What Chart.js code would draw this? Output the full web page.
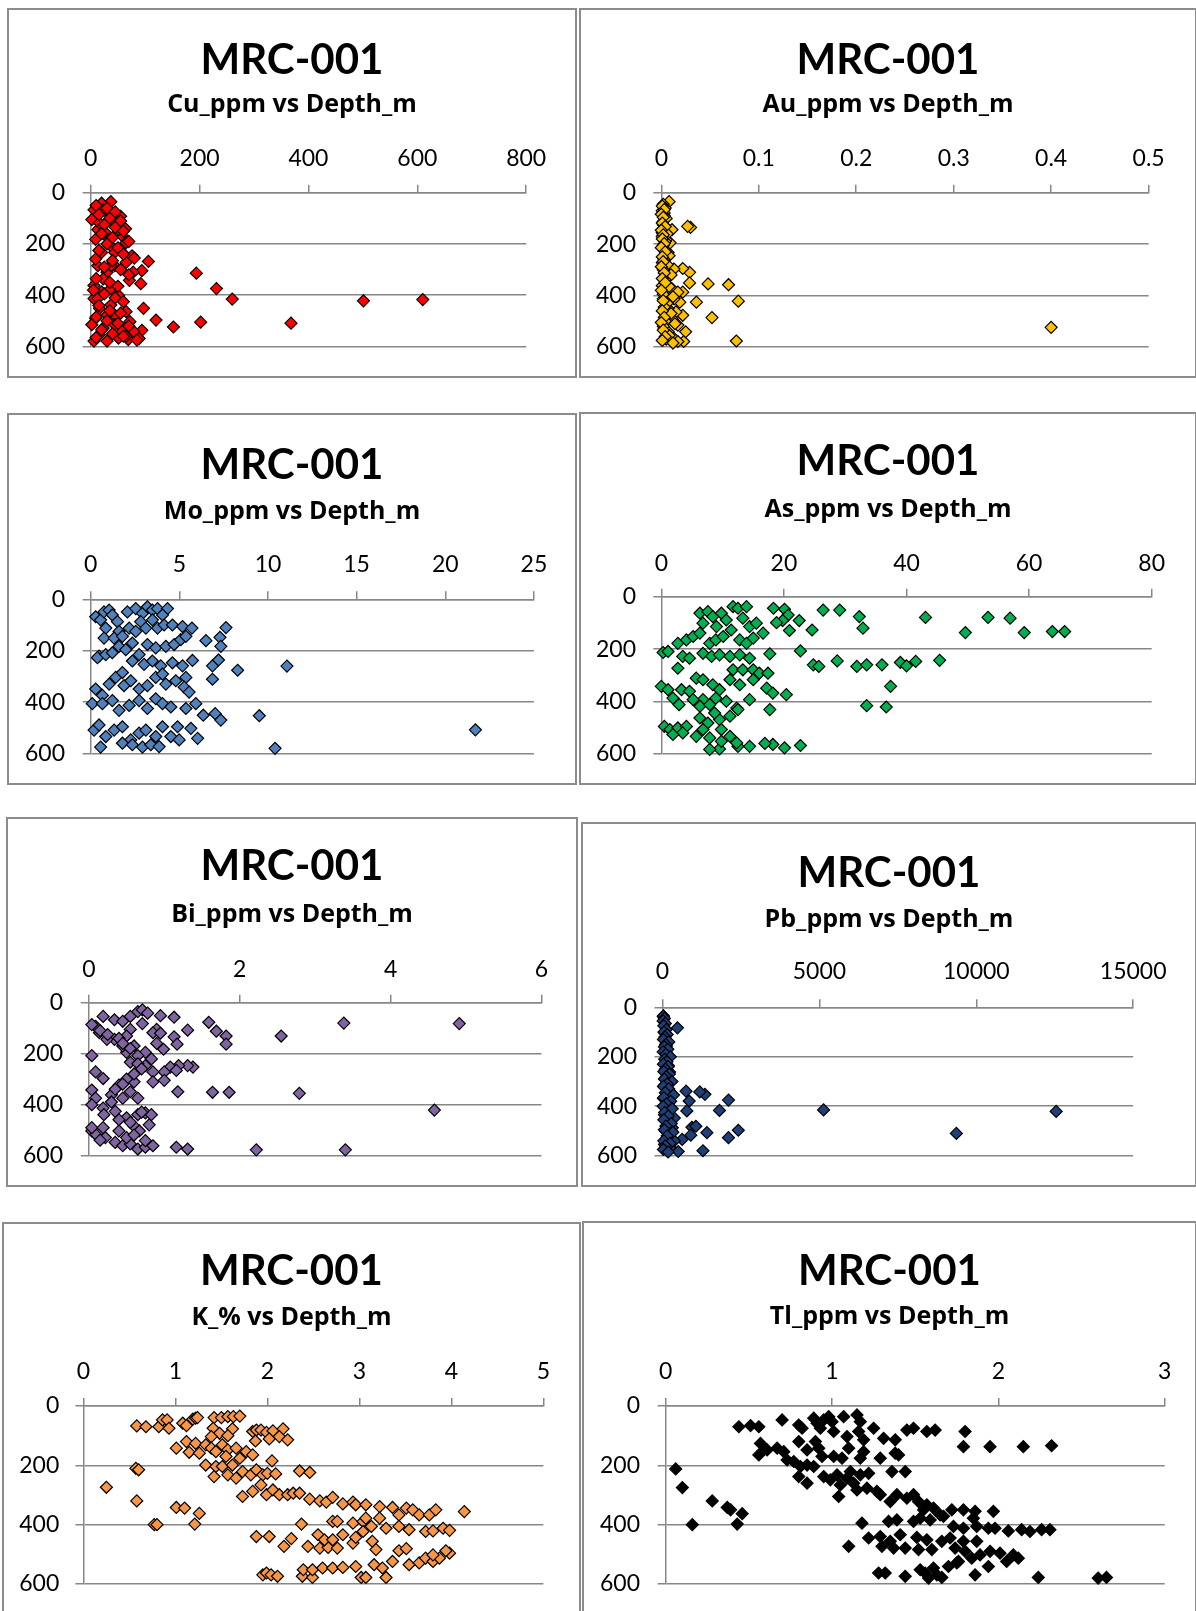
<!DOCTYPE html>
<html><head><meta charset="utf-8">
<script src="https://cdn.jsdelivr.net/npm/chart.js@4.4.0/dist/chart.umd.min.js"></script>
<style>
html,body{margin:0;padding:0;background:#fff;}
body{width:1196px;height:1611px;position:relative;overflow:hidden;}
.frame{position:absolute;box-sizing:border-box;border:2px solid #8c8c8c;background:#fff;}
canvas{position:absolute;}
</style></head><body>
<script>
const holeId = 'MRC-001';
const depthTicks = [0, 200, 400, 600];

// [value, depth_m]
const cuData = [
[610,417],[501,422],[368,509],[202,505],[152,524],[120,497],[97,451],[94,537],[89,569],[260,415],[231,374],[194,314],[106,268],[94,304],[92,355],[71,342],[78,310],[65,272],[64,141],[55,92],[37,35],[20,41],[6,67],[2,105],[13,144],[9,182],[20,233],[27,156],[44,118],[58,169],[37,208],[58,233],[76,246],[13,285],[30,310],[44,285],[6,362],[20,387],[37,374],[51,400],[6,413],[16,451],[37,438],[44,477],[65,464],[9,490],[23,528],[6,579],[30,579],[51,567],[69,573],[16,554],[44,515],[72,503],[58,541],[2,515],[30,477],[13,413],[23,336],[37,285],[9,259],[44,233],[65,195],[34,182],[16,118],[37,92],[23,67],[51,144],[79,541],[65,560],
[10,50],[30,60],[45,75],[15,85],[35,100],[55,110],[25,125],[45,135],[60,150],[20,160],[40,175],[70,190],[30,200],[50,215],[15,225],[60,240],[80,255],[40,265],[25,290],[55,300],[70,320],[10,335],[35,350],[50,365],[5,380],[25,395],[45,410],[60,425],[15,440],[35,460],[55,470],[10,485],[30,500],[50,510],[70,520],[20,535],[40,550],[60,560],[10,565],[85,575]
];
const auData = [
[0.400,524],[0.077,577],[0.079,422],[0.069,358],[0.048,355],[0.052,486],[0.036,426],[0.030,135],[0.027,131],[0.029,310],[0.029,351],[0.022,295],[0.022,387],[0.022,477],[0.023,579],[0.025,541],[0.019,426],[0.013,297],[0.011,144],[0.008,35],[0.003,79],[0.001,156],[0.003,221],[0.007,233],[0.009,195],[0.001,272],[0.005,323],[0.001,362],[0.011,374],[0.013,413],[0.005,464],[0.015,464],[0.003,528],[0.013,567],[0.007,541],[0.017,515],[0.002,112],[0.005,182],[0.017,387],[0.011,490],[0.002,413],[0.007,451],[0.017,579],
[0.002,45],[0.004,60],[0.001,70],[0.003,90],[0.005,100],[0.002,125],[0.006,160],[0.001,170],[0.004,190],[0.002,205],[0.008,245],[0.003,260],[0.006,280],[0.002,300],[0.010,320],[0.004,340],[0.008,365],[0.002,395],[0.012,405],[0.006,430],[0.003,445],[0.010,470],[0.004,500],[0.014,510],[0.002,520],[0.008,555],[0.005,570],[0.012,585],
[0.001,52],[0.003,66],[0.000,84],[0.002,96],[0.001,118],[0.004,132],[0.000,146],[0.002,164],[0.001,180],[0.003,198],[0.000,214],[0.004,230],[0.001,250],[0.002,268],[0.000,288],[0.003,312],[0.001,334],[0.004,350],[0.000,380],[0.002,420],[0.001,460],[0.003,485],[0.000,505],[0.002,535],[0.004,560],[0.001,575]
];
const moData = [
[0.28,68],[0.56,80],[0.75,49],[1.04,42],[1.22,61],[1.51,87],[2.07,49],[2.54,36],[2.92,55],[3.20,29],[3.48,42],[3.77,36],[4.33,36],[4.05,61],[3.48,80],[2.82,87],[2.17,112],[1.60,125],[0.85,112],[0.75,151],[1.32,151],[1.79,144],[2.54,125],[3.11,112],[3.77,112],[4.14,100],[4.61,100],[5.18,106],[5.71,112],[7.63,110],[6.50,161],[7.29,148],[7.34,183],
[0.47,221],[0.38,227],[0.85,215],[1.22,208],[1.60,183],[1.98,196],[2.35,170],[2.73,215],[3.20,176],[3.67,189],[4.24,183],[4.71,176],[5.08,157],[5.37,144],[2.35,240],[3.01,253],[3.48,240],[3.95,259],[4.61,247],[5.18,259],[5.74,238],[6.87,259],[7.21,236],[8.29,276],[11.07,260],[6.87,311],
[0.28,349],[0.66,374],[1.04,330],[1.41,304],[1.79,285],[1.88,336],[2.26,317],[2.73,349],[3.20,336],[3.67,304],[4.05,291],[4.24,330],[4.80,317],[5.37,304],[5.27,342],[5.55,361],
[0.09,406],[0.66,406],[1.22,394],[1.60,432],[2.17,413],[2.73,394],[3.20,425],[3.67,387],[4.05,406],[4.52,419],[5.37,425],[5.93,406],[6.35,451],[7.02,445],[7.34,470],[9.51,453],
[0.19,509],[0.47,489],[0.85,534],[1.32,509],[1.79,496],[2.26,547],[2.73,521],[3.11,509],[3.67,534],[4.05,496],[4.52,534],[4.90,496],[4.99,547],[5.65,502],[6.03,541],[0.56,575],[1.79,560],[2.35,566],[2.92,575],[3.39,566],[3.86,573],[10.4,580],[21.7,508]
];
const asData = [
[26.4,51],[29.1,51],[32.3,76],[32.9,120],[43.1,79],[49.6,137],[53.3,79],[56.9,82],[59.2,137],[63.8,133],[65.8,133],[24.6,127],[22.7,207],[24.8,260],[25.7,266],[28.7,245],[31.9,266],[33.5,260],[36.0,260],[39.0,251],[40.0,264],[41.5,247],[45.4,243],[37.4,342],[33.5,416],[36.7,421],
[18.3,44],[20.1,48],[20.7,70],[22.5,91],[20.9,129],[19.8,91],[18.8,99],[17.7,218],[20.4,374],[17.7,431],[17.2,349],[18.2,368],[14.4,393],[14.4,571],[18.2,564],[16.9,560],[20.1,577],[22.7,568],[12.5,571],[9.5,581],[7.9,583],
[0.3,213],[1.1,209],[2.7,273],[3.5,228],[4.6,235],[2.7,178],[4.1,165],[5.2,152],[6.3,63],[6.8,101],[7.6,57],[8.4,76],[9.0,114],[9.8,63],[10.6,89],[11.7,38],[12.5,44],[13.9,38],[13.3,82],[14.4,114],[15.5,101],[16.6,139],[6.3,139],[7.9,178],[8.9,165],[10.1,152],[11.4,127],[12.8,165],[13.9,178],[15.0,158],
[6.8,216],[8.2,228],[9.5,222],[11.2,228],[12.8,222],[14.4,235],[11.7,279],[13.3,279],[15.0,279],[16.0,292],[17.4,292],[11.2,317],[12.8,336],[15.0,317],
[0.0,342],[1.1,355],[3.3,355],[4.6,361],[5.7,311],[6.8,317],[8.4,336],[9.5,355],[6.8,393],[2.9,412],[1.9,387],[5.2,393],[6.3,418],[7.9,412],[8.9,387],[10.6,399],[12.3,425],[6.3,463],[7.6,482],[9.5,469],[11.2,456],[12.5,431],[8.7,444],
[0.5,495],[1.4,507],[2.7,501],[4.1,495],[3.5,520],[5.7,533],[6.8,507],[7.9,539],[9.8,507],[11.2,533],[12.3,558],[9.8,552],[1.9,526]
];
const biData = [
[4.91,82],[3.38,80],[2.55,131],[1.82,131],[1.82,163],[1.69,112],[1.59,77],[1.31,108],[1.13,57],[0.95,51],[1.13,134],[1.17,163],[0.99,183],[0.90,105],[0.85,118],[4.58,422],[2.79,356],[1.86,352],[1.64,352],[1.18,350],[2.22,578],[3.40,578],[1.31,575],[1.16,568],
[1.38,253],[1.31,247],[1.19,247],[1.08,253],[1.16,266],[1.00,272],[1.00,305],[0.85,272],[0.85,311],[0.75,247],[0.83,221],[0.75,195],[0.65,208],[0.55,234],[0.50,195],[0.60,170],[0.45,170],[0.34,144],[0.24,144],[0.14,118],[0.09,93],[0.04,86],[0.19,54],[0.34,67],[0.45,73],[0.55,105],[0.55,54],[0.65,35],[0.71,28],[0.78,41],[0.71,82],[0.50,131],
[0.04,208],[0.09,272],[0.19,298],[0.04,343],[0.09,375],[0.04,401],[0.19,414],[0.30,362],[0.40,324],[0.45,375],[0.55,350],[0.60,311],[0.65,375],[0.35,427],[0.50,452],[0.65,440],[0.75,433],[0.83,440],[0.60,485],[0.40,504],[0.22,530],[0.04,504],[0.09,517],[0.04,491],[0.19,491],[0.35,549],[0.45,562],[0.55,555],[0.65,575],[0.75,568],[0.85,562],[0.75,542],[0.67,504],[0.50,530],
[0.15,110],[0.25,125],[0.40,140],[0.45,160],[0.55,180],[0.65,240],[0.70,260],[0.60,280],[0.50,300],[0.45,320],[0.35,340],[0.30,390],[0.20,440],[0.40,460],[0.55,470],[0.70,430],[0.80,480],[0.15,540],[0.60,520],[0.95,120],[0.90,160]
];
const pbData = [
[12545,421],[9365,510],[5133,415],[2416,497],[2103,375],[2103,527],[1815,417],[1415,507],[1290,580],[1352,352],[1189,342],[939,485],[1064,481],[901,517],[751,339],[851,379],[776,419],[626,534],[501,583],[476,83],[313,487],[376,448],[250,342],[188,289],[188,236],[125,183],[63,130],[25,37],[63,103],[125,156],[150,209],[225,262],[63,315],[25,368],[125,395],[63,434],[188,461],[100,501],[63,554],[125,573],[250,567],[376,540],
[30,35],[60,45],[20,55],[90,65],[40,75],[120,90],[50,100],[150,110],[80,120],[30,130],[200,140],[100,150],[60,160],[170,170],[20,180],[110,190],[250,200],[70,210],[140,220],[30,230],[180,240],[90,250],[40,260],[220,270],[120,280],[60,290],[300,300],[150,310],[30,320],[200,330],[90,345],[350,355],[40,365],[260,380],[130,390],[20,400],[310,410],[70,425],[180,440],[40,455],[280,470],[110,480],[60,495],[330,505],[150,520],[40,540],[240,550],[90,560],[30,575],[180,585]
];
const kData = [
[0.58,67],[0.68,70],[0.82,70],[0.86,47],[0.91,47],[0.93,75],[1.08,58],[1.12,66],[1.19,44],[1.22,41],[1.24,39],[1.42,39],[1.50,39],[1.57,36],[1.63,36],[1.70,34],[1.41,75],[1.62,77],[1.48,92],[1.57,100],[1.39,103],[1.84,86],[1.88,81],[1.93,81],[1.99,89],[2.06,84],[2.17,77],[1.87,118],[2.02,111],[2.13,103],[2.22,114],
[1.01,142],[1.12,120],[1.15,156],[1.22,126],[1.26,159],[1.33,131],[1.39,142],[1.44,154],[1.51,131],[1.57,148],[1.66,142],[1.70,176],[1.77,154],[1.84,165],[1.55,170],[1.33,199],[1.44,204],[1.51,204],[1.62,199],[1.42,238],[1.57,232],[1.66,243],[1.73,221],[1.82,232],[1.88,215],[1.95,232],[2.00,227],[2.09,229],[2.05,185],[0.57,210],[0.60,215],[2.35,219],[2.46,224],
[0.25,274],[0.58,320],[1.01,342],[1.10,344],[1.26,362],[0.77,400],[0.80,400],[1.21,398],
[1.73,305],[1.84,288],[1.93,266],[1.99,299],[2.06,283],[2.13,299],[2.22,299],[2.28,294],[2.35,294],[2.46,314],[2.57,320],[2.64,324],[2.71,308],[2.82,330],[2.93,324],[2.96,333],[3.07,333],[3.22,339],[3.36,342],[3.43,367],[3.51,344],[3.58,350],[3.65,367],[3.76,367],[3.83,350],[4.14,356],
[2.37,398],[2.71,389],[2.76,389],[2.93,395],[3.04,389],[3.07,378],[3.13,406],[3.22,378],[3.29,412],[3.43,406],[3.54,417],[3.72,423],[3.80,421],[3.91,412],[3.98,419],
[1.88,440],[2.02,440],[2.18,473],[2.26,447],[2.44,473],[2.55,434],[2.57,479],[2.66,477],[2.76,479],[2.62,451],[2.71,451],[2.82,434],[2.93,462],[2.96,443],[3.04,423],[3.14,456],[3.18,484],[3.43,488],[3.51,481],
[1.95,569],[1.99,563],[2.04,569],[2.11,574],[2.38,574],[2.49,578],[2.39,552],[2.49,552],[2.60,546],[2.71,546],[2.82,544],[2.96,541],[3.02,578],[3.07,578],[3.16,535],[3.25,546],[3.29,578],[3.36,524],[3.54,535],[3.65,529],[3.72,513],[3.80,524],[3.87,513],[3.98,496],[3.94,488],[3.80,502]
];
const tlData = [
[0.44,70],[0.51,66],[0.56,70],[0.70,47],[0.80,64],[0.82,75],[0.89,41],[0.91,58],[0.93,75],[0.95,47],[0.98,36],[1.00,53],[1.01,86],[1.07,36],[1.09,103],[1.15,30],[1.17,53],[1.16,86],[1.19,114],[1.25,75],[1.31,109],[1.38,114],[1.45,81],[1.49,75],[1.57,86],[1.62,81],[1.80,86],
[0.80,120],[0.85,148],[0.90,120],[0.92,142],[0.57,126],[0.61,148],[0.56,165],[0.67,142],[0.71,154],[0.73,182],[0.77,187],[0.81,204],[0.85,199],[0.89,204],[0.80,238],[0.85,260],[0.94,170],[1.01,170],[1.06,176],[1.10,142],[1.17,176],[1.19,154],[1.29,176],[1.38,159],[1.40,165],
[0.95,238],[0.99,249],[1.03,232],[1.05,266],[1.04,305],[1.09,243],[1.11,221],[1.13,260],[1.15,283],[1.17,232],[1.22,227],[1.21,277],[1.27,288],[1.29,299],[1.36,221],[1.44,221],[1.35,322],[1.39,299],[1.45,311],[1.49,299],[1.52,322],[1.57,333],[1.61,344],[1.55,350],[1.65,367],[1.72,350],[1.79,350],[1.86,355],[1.97,355],[1.85,378],
[1.18,395],[1.34,389],[1.39,384],[1.49,389],[1.53,378],[1.59,384],[1.67,372],[1.73,406],[1.79,412],[1.87,406],[1.94,412],[1.98,412],[2.06,421],[2.14,417],[2.19,423],[2.26,417],[2.31,417],
[1.22,445],[1.29,440],[1.30,473],[1.35,456],[1.37,479],[1.41,434],[1.44,479],[1.51,443],[1.52,484],[1.57,451],[1.60,484],[1.66,456],[1.71,445],[1.74,479],[1.79,456],[1.87,456],[1.10,473],
[1.75,529],[1.80,490],[1.84,513],[1.89,502],[1.94,541],[1.95,490],[2.01,496],[2.05,524],[2.09,502],[2.12,513],[1.28,563],[1.32,563],[1.44,574],[1.53,552],[1.56,563],[1.58,580],[1.61,546],[1.63,569],[1.66,578],[1.70,541],[1.76,524],[1.86,569],[2.24,578],[2.60,580],[2.65,578],
[2.15,137],[2.32,134],[1.95,137],[1.79,137],[0.06,212],[0.10,275],[0.28,320],[0.37,342],[0.39,350],[0.46,363],[0.16,400],[0.43,398]
];

const panels = [
 {sub:'Cu_ppm vs Depth_m', data:cuData, xMax:800, xStep:200, fill:'#FF0000',
  box:[7,8,577,378], plot:[90.7,192.7,526.2,348.7], titleY:60, subY:105, xLabY:159, yLabR:65},
 {sub:'Au_ppm vs Depth_m', data:auData, xMax:0.5, xStep:0.1, fill:'#FFC000',
  box:[578.5,8,1197,378], plot:[661.3,192.7,1148.6,348.7], titleY:60, subY:105, xLabY:159, yLabR:636},
 {sub:'Mo_ppm vs Depth_m', data:moData, xMax:25, xStep:5, fill:'#4F81BD',
  box:[7,413,577,785], plot:[90.7,599.3,533.9,754.7], titleY:465, subY:511.7, xLabY:565, yLabR:65},
 {sub:'As_ppm vs Depth_m', data:asData, xMax:80, xStep:20, fill:'#00B050',
  box:[578.5,411.7,1197,785], plot:[661.3,596.7,1151.7,754.7], titleY:461.7, subY:510, xLabY:563.3, yLabR:636},
 {sub:'Bi_ppm vs Depth_m', data:biData, xMax:6, xStep:2, fill:'#8064A2',
  box:[6,817.3,578,1187.3], plot:[88.8,1002.7,541.5,1158.3], titleY:866.7, subY:915, xLabY:969.3, yLabR:63},
 {sub:'Pb_ppm vs Depth_m', data:pbData, xMax:15000, xStep:5000, fill:'#1F3F78',
  box:[580.5,821.7,1197,1187.3], plot:[662.5,1007.3,1133.2,1158.3], titleY:873.3, subY:920, xLabY:971.7, yLabR:637},
 {sub:'K_% vs Depth_m', data:kData, xMax:5, xStep:1, fill:'#F79646',
  box:[2,1221.7,581,1625], plot:[83.4,1406,543.4,1584], titleY:1271.7, subY:1318.3, xLabY:1371.7, yLabR:59.3},
 {sub:'Tl_ppm vs Depth_m', data:tlData, xMax:3, xStep:1, fill:'#000000',
  box:[582,1220.7,1197,1625], plot:[665.7,1406,1164.7,1584], titleY:1271.7, subY:1316.7, xLabY:1371.7, yLabR:640}
];

const TITLE_F = 42, SUB_F = 25, TICK_F = 23, TL = 8;
const GRID = '#878787';
const FONT = 'Lato', SUB_FONT = 'Open Sans';

panels.forEach(p => {
  const bx = Math.round(p.box[0]), by = Math.round(p.box[1]);
  const w = Math.round(p.box[2]) - bx, h = Math.round(p.box[3]) - by;
  const frame = document.createElement('div');
  frame.className = 'frame';
  Object.assign(frame.style, {left: bx+'px', top: by+'px', width: w+'px', height: h+'px'});
  document.body.appendChild(frame);
  const cv = document.createElement('canvas');
  cv.width = w; cv.height = h;
  Object.assign(cv.style, {left: bx+'px', top: by+'px', width: w+'px', height: h+'px'});
  document.body.appendChild(cv);

  const pl = p.plot[0]-bx, pt = p.plot[1]-by, pr = p.plot[2]-bx, pb = p.plot[3]-by;
  const titleTop = (p.titleY-by) - 0.6*TITLE_F;
  const titleH = titleTop + 1.2*TITLE_F;
  const subTop = (p.subY-by) - titleH - 0.6*SUB_F;
  const subH = subTop + 1.2*SUB_F;
  const xAxisH = pt - titleH - subH;
  const xPad = pt - (p.xLabY-by) - TL - 0.6*TICK_F;
  const yPad = pl - (p.yLabR-bx) - TL;
  const rightW = w - pr;

  new Chart(cv, {
    type: 'scatter',
    data: {datasets: [{
      data: p.data.map(([v,d]) => ({x: v, y: d})),
      pointStyle: 'rectRot', pointRadius: 6, pointHoverRadius: 6,
      backgroundColor: p.fill, borderColor: '#000000', borderWidth: 1.2, clip: false
    }]},
    options: {
      responsive: false, animation: false, devicePixelRatio: 1,
      events: [],
      layout: {padding: {left: 0, top: 0, right: 0, bottom: h-pb}},
      plugins: {
        legend: {display: false}, tooltip: {enabled: false},
        title: {display: true, text: holeId, color: '#000',
          font: {family: FONT, size: TITLE_F, weight: 'bold'}, padding: {top: titleTop, bottom: 0}},
        subtitle: {display: true, text: p.sub, color: '#000',
          font: {family: SUB_FONT, size: SUB_F, weight: 'bold'}, padding: {top: subTop, bottom: 0}}
      },
      scales: {
        x: {type: 'linear', position: 'top', min: 0, max: p.xMax,
          ticks: {stepSize: p.xStep, padding: xPad, color: '#000', maxRotation: 0, autoSkip: false,
            font: {family: FONT, size: TICK_F}, callback: v => String(v)},
          grid: {drawOnChartArea: false, drawTicks: true, tickLength: TL, color: GRID, lineWidth: 1.5},
          border: {color: GRID, width: 1.5},
          afterFit: s => { s.height = xAxisH; }},
        y: {type: 'linear', reverse: true, min: 0, max: 600,
          afterBuildTicks: s => { s.ticks = depthTicks.map(v => ({value: v})); },
          ticks: {padding: yPad, color: '#000', font: {family: FONT, size: TICK_F}, callback: v => String(v)},
          grid: {color: GRID, lineWidth: 1.5, tickLength: TL},
          border: {color: GRID, width: 1.5},
          afterFit: s => { s.width = pl; }},
        spacer: {type: 'linear', position: 'right', min: 0, max: 1,
          ticks: {display: false}, grid: {display: false}, border: {display: false},
          afterFit: s => { s.width = rightW; }}
      }
    }
  });
});
</script>
</body></html>
